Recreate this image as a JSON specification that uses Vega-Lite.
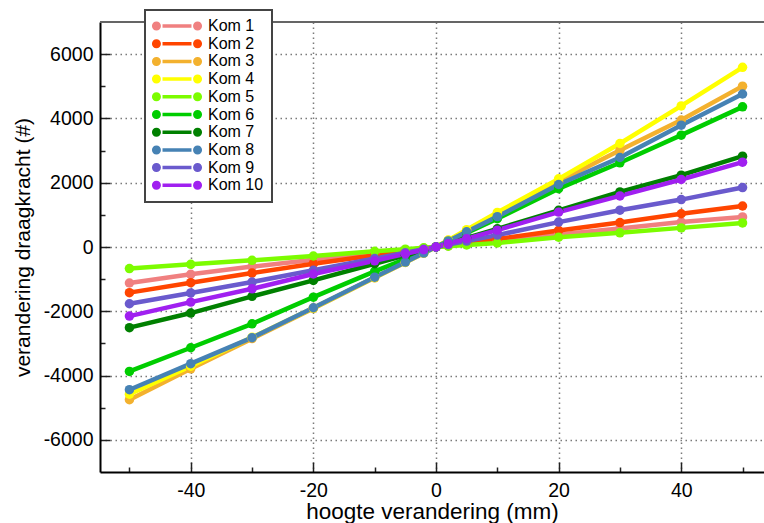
{
  "$schema": "https://vega.github.io/schema/vega-lite/v6.json",
  "width": 664,
  "height": 450,
  "autosize": {"type": "none"},
  "padding": {"left": 100, "top": 22, "right": 0, "bottom": 51},
  "config": {
    "view": {"stroke": null},
    "font": "Liberation Sans",
    "legend": {"strokeWidth": 2}
  },
  "data": {
    "values": [
      {"k":"Kom 1","x":-50,"y":-1120},{"k":"Kom 1","x":-40,"y":-850},{"k":"Kom 1","x":-30,"y":-610},{"k":"Kom 1","x":-20,"y":-400},{"k":"Kom 1","x":-10,"y":-200},{"k":"Kom 1","x":-5,"y":-100},{"k":"Kom 1","x":-2,"y":-40},{"k":"Kom 1","x":0,"y":0},{"k":"Kom 1","x":2,"y":37},{"k":"Kom 1","x":5,"y":92},{"k":"Kom 1","x":10,"y":185},{"k":"Kom 1","x":20,"y":390},{"k":"Kom 1","x":30,"y":575},{"k":"Kom 1","x":40,"y":775},{"k":"Kom 1","x":50,"y":935},
      {"k":"Kom 2","x":-50,"y":-1420},{"k":"Kom 2","x":-40,"y":-1110},{"k":"Kom 2","x":-30,"y":-810},{"k":"Kom 2","x":-20,"y":-520},{"k":"Kom 2","x":-10,"y":-255},{"k":"Kom 2","x":-5,"y":-128},{"k":"Kom 2","x":-2,"y":-51},{"k":"Kom 2","x":0,"y":0},{"k":"Kom 2","x":2,"y":50},{"k":"Kom 2","x":5,"y":125},{"k":"Kom 2","x":10,"y":250},{"k":"Kom 2","x":20,"y":515},{"k":"Kom 2","x":30,"y":760},{"k":"Kom 2","x":40,"y":1035},{"k":"Kom 2","x":50,"y":1275},
      {"k":"Kom 3","x":-50,"y":-4750},{"k":"Kom 3","x":-40,"y":-3790},{"k":"Kom 3","x":-30,"y":-2850},{"k":"Kom 3","x":-20,"y":-1910},{"k":"Kom 3","x":-10,"y":-960},{"k":"Kom 3","x":-5,"y":-480},{"k":"Kom 3","x":-2,"y":-192},{"k":"Kom 3","x":0,"y":0},{"k":"Kom 3","x":2,"y":200},{"k":"Kom 3","x":5,"y":500},{"k":"Kom 3","x":10,"y":1000},{"k":"Kom 3","x":20,"y":2040},{"k":"Kom 3","x":30,"y":3010},{"k":"Kom 3","x":40,"y":3950},{"k":"Kom 3","x":50,"y":5005},
      {"k":"Kom 4","x":-50,"y":-4580},{"k":"Kom 4","x":-40,"y":-3710},{"k":"Kom 4","x":-30,"y":-2810},{"k":"Kom 4","x":-20,"y":-1900},{"k":"Kom 4","x":-10,"y":-950},{"k":"Kom 4","x":-5,"y":-475},{"k":"Kom 4","x":-2,"y":-190},{"k":"Kom 4","x":0,"y":0},{"k":"Kom 4","x":2,"y":215},{"k":"Kom 4","x":5,"y":540},{"k":"Kom 4","x":10,"y":1075},{"k":"Kom 4","x":20,"y":2120},{"k":"Kom 4","x":30,"y":3220},{"k":"Kom 4","x":40,"y":4390},{"k":"Kom 4","x":50,"y":5590},
      {"k":"Kom 5","x":-50,"y":-670},{"k":"Kom 5","x":-40,"y":-540},{"k":"Kom 5","x":-30,"y":-415},{"k":"Kom 5","x":-20,"y":-280},{"k":"Kom 5","x":-10,"y":-135},{"k":"Kom 5","x":-5,"y":-68},{"k":"Kom 5","x":-2,"y":-27},{"k":"Kom 5","x":0,"y":0},{"k":"Kom 5","x":2,"y":25},{"k":"Kom 5","x":5,"y":62},{"k":"Kom 5","x":10,"y":125},{"k":"Kom 5","x":20,"y":305},{"k":"Kom 5","x":30,"y":440},{"k":"Kom 5","x":40,"y":595},{"k":"Kom 5","x":50,"y":750},
      {"k":"Kom 6","x":-50,"y":-3870},{"k":"Kom 6","x":-40,"y":-3135},{"k":"Kom 6","x":-30,"y":-2390},{"k":"Kom 6","x":-20,"y":-1560},{"k":"Kom 6","x":-10,"y":-760},{"k":"Kom 6","x":-5,"y":-380},{"k":"Kom 6","x":-2,"y":-152},{"k":"Kom 6","x":0,"y":0},{"k":"Kom 6","x":2,"y":175},{"k":"Kom 6","x":5,"y":440},{"k":"Kom 6","x":10,"y":880},{"k":"Kom 6","x":20,"y":1815},{"k":"Kom 6","x":30,"y":2620},{"k":"Kom 6","x":40,"y":3480},{"k":"Kom 6","x":50,"y":4360},
      {"k":"Kom 7","x":-50,"y":-2510},{"k":"Kom 7","x":-40,"y":-2055},{"k":"Kom 7","x":-30,"y":-1535},{"k":"Kom 7","x":-20,"y":-1040},{"k":"Kom 7","x":-10,"y":-520},{"k":"Kom 7","x":-5,"y":-260},{"k":"Kom 7","x":-2,"y":-104},{"k":"Kom 7","x":0,"y":0},{"k":"Kom 7","x":2,"y":112},{"k":"Kom 7","x":5,"y":280},{"k":"Kom 7","x":10,"y":565},{"k":"Kom 7","x":20,"y":1140},{"k":"Kom 7","x":30,"y":1715},{"k":"Kom 7","x":40,"y":2235},{"k":"Kom 7","x":50,"y":2825},
      {"k":"Kom 8","x":-50,"y":-4440},{"k":"Kom 8","x":-40,"y":-3630},{"k":"Kom 8","x":-30,"y":-2820},{"k":"Kom 8","x":-20,"y":-1890},{"k":"Kom 8","x":-10,"y":-940},{"k":"Kom 8","x":-5,"y":-470},{"k":"Kom 8","x":-2,"y":-188},{"k":"Kom 8","x":0,"y":0},{"k":"Kom 8","x":2,"y":190},{"k":"Kom 8","x":5,"y":475},{"k":"Kom 8","x":10,"y":945},{"k":"Kom 8","x":20,"y":1945},{"k":"Kom 8","x":30,"y":2785},{"k":"Kom 8","x":40,"y":3790},{"k":"Kom 8","x":50,"y":4760},
      {"k":"Kom 9","x":-50,"y":-1765},{"k":"Kom 9","x":-40,"y":-1430},{"k":"Kom 9","x":-30,"y":-1090},{"k":"Kom 9","x":-20,"y":-725},{"k":"Kom 9","x":-10,"y":-360},{"k":"Kom 9","x":-5,"y":-180},{"k":"Kom 9","x":-2,"y":-72},{"k":"Kom 9","x":0,"y":0},{"k":"Kom 9","x":2,"y":75},{"k":"Kom 9","x":5,"y":185},{"k":"Kom 9","x":10,"y":370},{"k":"Kom 9","x":20,"y":775},{"k":"Kom 9","x":30,"y":1145},{"k":"Kom 9","x":40,"y":1475},{"k":"Kom 9","x":50,"y":1850},
      {"k":"Kom 10","x":-50,"y":-2150},{"k":"Kom 10","x":-40,"y":-1715},{"k":"Kom 10","x":-30,"y":-1300},{"k":"Kom 10","x":-20,"y":-840},{"k":"Kom 10","x":-10,"y":-430},{"k":"Kom 10","x":-5,"y":-215},{"k":"Kom 10","x":-2,"y":-86},{"k":"Kom 10","x":0,"y":0},{"k":"Kom 10","x":2,"y":105},{"k":"Kom 10","x":5,"y":260},{"k":"Kom 10","x":10,"y":525},{"k":"Kom 10","x":20,"y":1085},{"k":"Kom 10","x":30,"y":1590},{"k":"Kom 10","x":40,"y":2100},{"k":"Kom 10","x":50,"y":2640}
    ]
  },
  "resolve": {"axis": {"x": "independent", "y": "independent"}},
  "layer": [
    {
      "mark": {"type": "point", "opacity": 0},
      "encoding": {
        "x": {
          "field": "x", "type": "quantitative",
          "scale": {"domain": [-54.8, 53.5], "nice": false, "zero": false},
          "axis": {"orient": "bottom", "values": [-50, -30, -10, 10, 30, 50], "tickSize": -5, "labels": false, "domain": false, "grid": false, "title": null, "tickColor": "#222", "tickWidth": 1.5}
        },
        "y": {
          "field": "y", "type": "quantitative",
          "scale": {"domain": [-7000, 7000], "nice": false},
          "axis": {"orient": "left", "values": [-5000, -3000, -1000, 1000, 3000, 5000], "tickSize": -5, "labels": false, "domain": false, "grid": false, "title": null, "tickColor": "#222", "tickWidth": 1.5}
        }
      }
    },
    {
      "mark": {"type": "line", "strokeWidth": 4.5, "point": {"filled": true, "size": 90, "opacity": 1}},
      "encoding": {
        "x": {
          "field": "x", "type": "quantitative",
          "scale": {"domain": [-54.8, 53.5], "nice": false, "zero": false},
          "axis": {
            "orient": "bottom",
            "title": "hoogte verandering (mm)",
            "values": [-40, -20, 0, 20, 40],
            "labelExpr": "'' + datum.value",
            "tickSize": -10,
            "grid": true,
            "gridColor": "#7a7a7a", "gridDash": [1.5, 3.5], "gridWidth": 1.5,
            "domainColor": "#000", "domainWidth": 2,
            "tickColor": "#222", "tickWidth": 1.5,
            "labelFontSize": 19.5, "labelColor": "#000", "labelPadding": 19,
            "labelFlush": false, "labelOverlap": false,
            "titleFontSize": 22.5, "titleFontWeight": "normal", "titleColor": "#000", "titlePadding": 1
          }
        },
        "y": {
          "field": "y", "type": "quantitative",
          "scale": {"domain": [-7000, 7000], "nice": false},
          "axis": {
            "orient": "left",
            "title": "verandering draagkracht (#)",
            "values": [-6000, -4000, -2000, 0, 2000, 4000, 6000],
            "labelExpr": "'' + datum.value",
            "tickSize": -10,
            "grid": true,
            "gridColor": "#7a7a7a", "gridDash": [1.5, 3.5], "gridWidth": 1.5,
            "domainColor": "#000", "domainWidth": 2,
            "tickColor": "#222", "tickWidth": 1.5,
            "labelFontSize": 19.5, "labelColor": "#000", "labelPadding": 17,
            "labelFlush": false, "labelOverlap": false,
            "titleFontSize": 21, "titleFontWeight": "normal", "titleColor": "#000", "titlePadding": 10
          }
        },
        "color": {
          "field": "k", "type": "nominal",
          "scale": {
            "domain": ["Kom 1", "Kom 2", "Kom 3", "Kom 4", "Kom 5", "Kom 6", "Kom 7", "Kom 8", "Kom 9", "Kom 10"],
            "range": ["#F08080", "#FF4500", "#F3B12E", "#FFFF00", "#7CFC00", "#00CD00", "#008000", "#4682B4", "#6A5ACD", "#A020F0"]
          },
          "legend": {
            "title": null,
            "orient": "none",
            "legendX": 45,
            "legendY": -12,
            "symbolType": "M-3.58,0A0.643,0.643,0,1,1,-2.294,0A0.643,0.643,0,1,1,-3.58,0ZM-2.07,-0.25L2.07,-0.25L2.07,0.25L-2.07,0.25ZM2.294,0A0.643,0.643,0,1,1,3.58,0A0.643,0.643,0,1,1,2.294,0Z",
            "symbolSize": 196,
            "symbolStrokeWidth": 0,
            "symbolOffset": 16,
            "labelOffset": 23,
            "labelFontSize": 16,
            "labelColor": "#000",
            "padding": 8,
            "rowPadding": 1.7,
            "strokeColor": "#444",
            "fillColor": "#ffffff",
            "encode": {"symbols": {"update": {"fill": {"scale": "color", "field": "value"}, "opacity": {"value": 1}}}}
          }
        }
      }
    },
    {
      "mark": {"type": "rule", "color": "#666", "strokeWidth": 1.5},
      "encoding": {"y": {"datum": 7000, "type": "quantitative", "axis": null}}
    }
  ]
}
